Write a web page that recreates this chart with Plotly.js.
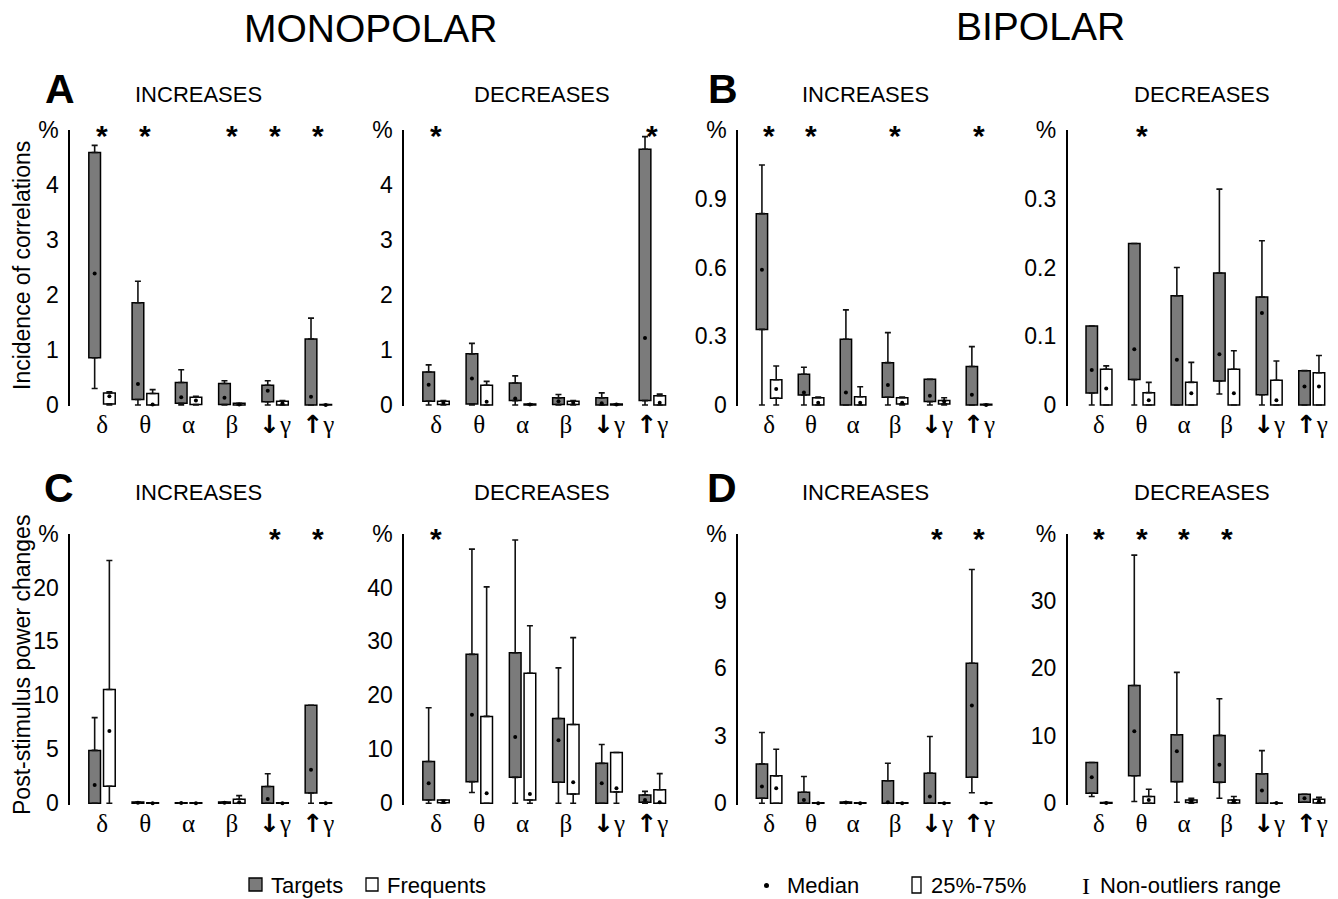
<!DOCTYPE html>
<html><head><meta charset="utf-8">
<script src="https://cdn.plot.ly/plotly-3.0.1.min.js"></script>
<style>html,body{margin:0;padding:0;background:#fff}#chart{width:1338px;height:899px}</style>
</head><body><div id="chart"></div>
<script>
// ---------- categories / tick labels ----------
const bands = ['δ', 'θ', 'α', 'β',
  '<span style="font-family:DejaVu Sans;font-weight:bold">↓</span>γ',
  '<span style="font-family:DejaVu Sans;font-weight:bold">↑</span>γ'];

// ---------- A: Monopolar, incidence of correlations, INCREASES ----------
const AI_T_lo  = [0.30, 0, 0, 0, 0, 0];
const AI_T_q1  = [0.86, 0.10, 0.03, 0.01, 0.06, 0];
const AI_T_med = [2.39, 0.38, 0.14, 0.13, 0.26, 0.15];
const AI_T_q3  = [4.59, 1.86, 0.41, 0.39, 0.36, 1.20];
const AI_T_hi  = [4.72, 2.25, 0.64, 0.44, 0.44, 1.58];
const AI_F_lo  = [0, 0, 0, 0, 0, 0];
const AI_F_q1  = [0.02, 0, 0.01, 0, 0, 0];
const AI_F_med = [0.16, 0.01, 0.08, 0.01, 0.03, 0];
const AI_F_q3  = [0.22, 0.21, 0.14, 0.03, 0.07, 0.01];
const AI_F_hi  = [0.24, 0.28, 0.16, 0.03, 0.08, 0.01];
const AI_stars = [1, 1, 0, 1, 1, 1];

// ---------- A: DECREASES ----------
const AD_T_lo  = [0, 0, 0, 0, 0, 0];
const AD_T_q1  = [0.07, 0.02, 0.08, 0.01, 0, 0.08];
const AD_T_med = [0.37, 0.48, 0.12, 0.07, 0.03, 1.22];
const AD_T_q3  = [0.60, 0.93, 0.40, 0.13, 0.13, 4.65];
const AD_T_hi  = [0.73, 1.12, 0.53, 0.19, 0.22, 4.88];
const AD_F_lo  = [0, 0, 0, 0, 0, 0];
const AD_F_q1  = [0.01, 0, 0, 0.01, 0, 0];
const AD_F_med = [0.04, 0.06, 0.01, 0.04, 0.01, 0.04];
const AD_F_q3  = [0.07, 0.36, 0.02, 0.07, 0.02, 0.17];
const AD_F_hi  = [0.08, 0.43, 0.02, 0.08, 0.02, 0.20];
const AD_stars = [1, 0, 0, 0, 0, 1];

// ---------- B: Bipolar, incidence of correlations, INCREASES ----------
const BI_T_lo  = [0, 0, 0, 0, 0, 0];
const BI_T_q1  = [0.33, 0.044, 0, 0.034, 0.015, 0];
const BI_T_med = [0.59, 0.055, 0.055, 0.087, 0.04, 0.045];
const BI_T_q3  = [0.835, 0.134, 0.287, 0.185, 0.112, 0.168];
const BI_T_hi  = [1.047, 0.165, 0.415, 0.316, 0.112, 0.255];
const BI_F_lo  = [0, 0, 0, 0, 0, 0];
const BI_F_q1  = [0.03, 0, 0, 0.005, 0.005, 0];
const BI_F_med = [0.07, 0.01, 0.01, 0.01, 0.015, 0];
const BI_F_q3  = [0.11, 0.032, 0.036, 0.032, 0.02, 0.003];
const BI_F_hi  = [0.17, 0.035, 0.08, 0.035, 0.032, 0.003];
const BI_stars = [1, 1, 0, 1, 0, 1];

// ---------- B: DECREASES ----------
const BD_T_lo  = [0, 0, 0, 0.016, 0, 0];
const BD_T_q1  = [0.0175, 0.037, 0, 0.035, 0.015, 0];
const BD_T_med = [0.051, 0.081, 0.066, 0.074, 0.134, 0.027];
const BD_T_q3  = [0.115, 0.235, 0.159, 0.192, 0.157, 0.05];
const BD_T_hi  = [0.115, 0.235, 0.20, 0.314, 0.239, 0.05];
const BD_F_lo  = [0, 0, 0, 0, 0, 0];
const BD_F_q1  = [0, 0, 0, 0, 0, 0];
const BD_F_med = [0.024, 0.007, 0.017, 0.017, 0.007, 0.027];
const BD_F_q3  = [0.052, 0.018, 0.033, 0.052, 0.036, 0.047];
const BD_F_hi  = [0.057, 0.033, 0.062, 0.079, 0.064, 0.072];
const BD_stars = [0, 1, 0, 0, 0, 0];

// ---------- C: Monopolar, post-stimulus power changes, INCREASES ----------
const CI_T_lo  = [0, 0, 0, 0, 0, 0];
const CI_T_q1  = [0, 0, 0, 0, 0, 0.96];
const CI_T_med = [1.7, 0.05, 0.02, 0.05, 0.4, 3.1];
const CI_T_q3  = [4.9, 0.12, 0.05, 0.12, 1.55, 9.08];
const CI_T_hi  = [7.94, 0.12, 0.05, 0.12, 2.73, 9.08];
const CI_F_lo  = [0, 0, 0, 0, 0, 0];
const CI_F_q1  = [1.58, 0, 0, 0, 0, 0];
const CI_F_med = [6.7, 0, 0, 0.1, 0, 0];
const CI_F_q3  = [10.54, 0.05, 0.05, 0.37, 0.05, 0.05];
const CI_F_hi  = [22.5, 0.05, 0.05, 0.71, 0.05, 0.05];
const CI_stars = [0, 0, 0, 0, 1, 1];

// ---------- C: DECREASES ----------
const CD_T_lo  = [0, 2.0, 0, 0, 0, 0];
const CD_T_q1  = [0.6, 4.0, 4.8, 3.9, 0, 0.2];
const CD_T_med = [3.7, 16.4, 12.3, 11.7, 3.7, 0.6];
const CD_T_q3  = [7.75, 27.6, 27.9, 15.7, 7.4, 1.55];
const CD_T_hi  = [17.7, 47.1, 48.8, 25.1, 10.9, 2.2];
const CD_F_lo  = [0, 0, 0, 0, 0, 0];
const CD_F_q1  = [0.1, 0, 0.6, 1.7, 2.1, 0];
const CD_F_med = [0.3, 1.86, 1.7, 3.9, 2.8, 0.2];
const CD_F_q3  = [0.6, 16.1, 24.1, 14.6, 9.4, 2.5];
const CD_F_hi  = [0.6, 40.1, 32.9, 30.7, 9.4, 5.5];
const CD_stars = [1, 0, 0, 0, 0, 0];

// ---------- D: Bipolar, post-stimulus power changes, INCREASES ----------
const DI_T_lo  = [0, 0, 0, 0, 0, 0.47];
const DI_T_q1  = [0.22, 0, 0, 0, 0, 1.16];
const DI_T_med = [0.74, 0.15, 0.03, 0.05, 0.3, 4.35];
const DI_T_q3  = [1.75, 0.49, 0.06, 1.0, 1.34, 6.23];
const DI_T_hi  = [3.15, 1.19, 0.06, 1.78, 2.97, 10.4];
const DI_F_lo  = [0, 0, 0, 0, 0, 0];
const DI_F_q1  = [0, 0, 0, 0, 0, 0];
const DI_F_med = [0.67, 0, 0, 0, 0, 0];
const DI_F_q3  = [1.22, 0.02, 0.02, 0.02, 0.02, 0.02];
const DI_F_hi  = [2.4, 0.02, 0.02, 0.02, 0.02, 0.02];
const DI_stars = [0, 0, 0, 0, 1, 1];

// ---------- D: DECREASES ----------
const DD_T_lo  = [1.0, 0.25, 0.15, 0.75, 0, 0.15];
const DD_T_q1  = [1.5, 4.07, 3.2, 3.1, 0, 0.15];
const DD_T_med = [3.87, 10.66, 7.7, 5.7, 1.9, 0.75];
const DD_T_q3  = [6.05, 17.45, 10.16, 10.06, 4.36, 1.34];
const DD_T_hi  = [6.05, 36.8, 19.4, 15.5, 7.8, 1.34];
const DD_F_lo  = [0, 0, 0, 0, 0, 0];
const DD_F_q1  = [0, 0, 0.1, 0.05, 0, 0.05];
const DD_F_med = [0.05, 0.5, 0.3, 0.3, 0.02, 0.3];
const DD_F_q3  = [0.1, 1.0, 0.5, 0.5, 0.05, 0.6];
const DD_F_hi  = [0.1, 2.08, 0.75, 1.0, 0.05, 0.9];
const DD_stars = [1, 1, 1, 1, 0, 0];

// ---------- axis tops (the "%" level) and tick values ----------
const AI_ticks = [0, 1, 2, 3, 4],       AI_top = 5;
const AD_ticks = [0, 1, 2, 3, 4],       AD_top = 5;
const BI_ticks = [0, 0.3, 0.6, 0.9],    BI_top = 1.2;
const BD_ticks = [0, 0.1, 0.2, 0.3],    BD_top = 0.4;
const CI_ticks = [0, 5, 10, 15, 20],    CI_top = 25;
const CD_ticks = [0, 10, 20, 30, 40],   CD_top = 50;
const DI_ticks = [0, 3, 6, 9],          DI_top = 12;
const DD_ticks = [0, 10, 20, 30],       DD_top = 40;

const subTitles = ['INCREASES', 'DECREASES', 'INCREASES', 'DECREASES',
                   'INCREASES', 'DECREASES', 'INCREASES', 'DECREASES'];

// ---------- build panels from the arrays ----------
function S(lo, q1, med, q3, hi) { return {lo, q1, med, q3, hi}; }
const panels = [
  {T: S(AI_T_lo, AI_T_q1, AI_T_med, AI_T_q3, AI_T_hi), F: S(AI_F_lo, AI_F_q1, AI_F_med, AI_F_q3, AI_F_hi), stars: AI_stars, ticks: AI_ticks, top: AI_top},
  {T: S(AD_T_lo, AD_T_q1, AD_T_med, AD_T_q3, AD_T_hi), F: S(AD_F_lo, AD_F_q1, AD_F_med, AD_F_q3, AD_F_hi), stars: AD_stars, ticks: AD_ticks, top: AD_top},
  {T: S(BI_T_lo, BI_T_q1, BI_T_med, BI_T_q3, BI_T_hi), F: S(BI_F_lo, BI_F_q1, BI_F_med, BI_F_q3, BI_F_hi), stars: BI_stars, ticks: BI_ticks, top: BI_top},
  {T: S(BD_T_lo, BD_T_q1, BD_T_med, BD_T_q3, BD_T_hi), F: S(BD_F_lo, BD_F_q1, BD_F_med, BD_F_q3, BD_F_hi), stars: BD_stars, ticks: BD_ticks, top: BD_top},
  {T: S(CI_T_lo, CI_T_q1, CI_T_med, CI_T_q3, CI_T_hi), F: S(CI_F_lo, CI_F_q1, CI_F_med, CI_F_q3, CI_F_hi), stars: CI_stars, ticks: CI_ticks, top: CI_top},
  {T: S(CD_T_lo, CD_T_q1, CD_T_med, CD_T_q3, CD_T_hi), F: S(CD_F_lo, CD_F_q1, CD_F_med, CD_F_q3, CD_F_hi), stars: CD_stars, ticks: CD_ticks, top: CD_top},
  {T: S(DI_T_lo, DI_T_q1, DI_T_med, DI_T_q3, DI_T_hi), F: S(DI_F_lo, DI_F_q1, DI_F_med, DI_F_q3, DI_F_hi), stars: DI_stars, ticks: DI_ticks, top: DI_top},
  {T: S(DD_T_lo, DD_T_q1, DD_T_med, DD_T_q3, DD_T_hi), F: S(DD_F_lo, DD_F_q1, DD_F_med, DD_F_q3, DD_F_hi), stars: DD_stars, ticks: DD_ticks, top: DD_top}
];

// ---------- geometry ----------
const W = 1338, H = 899;
const colPx = [[70, 340], [404, 674], [738, 1000], [1067.5, 1333]];
const rowPx = [[130, 406.4], [533.5, 804.6]];
const xRange = [0.26, 6.5];
const cats = bands.map((b, i) => i + 1);
const OFF = 0.17, BW = 0.27;
const GRAY = '#7b7b7b';
const SANS = 'Liberation Sans, Arial, Helvetica, sans-serif';
const SERIF = 'Liberation Serif, Times New Roman, serif';

const bars = [], overlay = [], annotations = [], shapes = [];
const layout = {
  width: W, height: H,
  margin: {l: 0, r: 0, t: 0, b: 0},
  paper_bgcolor: '#fff', plot_bgcolor: 'rgba(0,0,0,0)',
  barmode: 'overlay', showlegend: false,
  font: {family: SANS, color: '#000'},
  annotations, shapes
};

panels.forEach((p, i) => {
  const k = i + 1;
  const sfx = k === 1 ? '' : String(k);
  const xa = 'x' + sfx, ya = 'y' + sfx;
  const col = i % 4, row = Math.floor(i / 4);
  layout['xaxis' + sfx] = {
    domain: [colPx[col][0] / W, colPx[col][1] / W], range: xRange, anchor: ya,
    tickvals: cats, ticktext: bands, ticks: '', showline: false, showgrid: false, zeroline: false,
    tickfont: {family: SERIF, size: 25, color: '#000'}, ticklabelstandoff: 1, fixedrange: true
  };
  layout['yaxis' + sfx] = {
    domain: [1 - rowPx[row][1] / H, 1 - rowPx[row][0] / H], range: [-p.top * 0.005, p.top], anchor: xa,
    tickvals: p.ticks.concat([p.top]), ticktext: p.ticks.map(String).concat(['%']),
    ticks: '', showline: true, linecolor: '#000', linewidth: 1.6, showgrid: false, zeroline: false,
    tickfont: {family: SANS, size: 23, color: '#000'}, ticklabelstandoff: 5, fixedrange: true
  };
  [['T', -OFF, GRAY], ['F', OFF, '#ffffff']].forEach(([key, o, fill]) => {
    const d = p[key];
    const xs = cats.map(c => c + o);
    bars.push({
      type: 'bar', x: xs, base: d.q1, y: d.q3.map((v, j) => v - d.q1[j]), width: BW,
      marker: {color: fill, line: {color: '#000', width: 1.5}},
      xaxis: xa, yaxis: ya, hoverinfo: 'skip'
    });
    overlay.push({
      type: 'scatter', mode: 'markers', x: xs, y: d.q3, xaxis: xa, yaxis: ya, cliponaxis: false,
      marker: {size: 1, color: 'rgba(0,0,0,0)'}, hoverinfo: 'skip',
      error_y: {type: 'data', symmetric: false, array: d.hi.map((v, j) => v - d.q3[j]),
                arrayminus: d.q3.map(() => 0), width: 3, thickness: 1.6, color: '#111'}
    });
    overlay.push({
      type: 'scatter', mode: 'markers', x: xs, y: d.q1, xaxis: xa, yaxis: ya, cliponaxis: false,
      marker: {size: 1, color: 'rgba(0,0,0,0)'}, hoverinfo: 'skip',
      error_y: {type: 'data', symmetric: false, array: d.q1.map(() => 0),
                arrayminus: d.q1.map((v, j) => v - d.lo[j]), width: 3, thickness: 1.6, color: '#111'}
    });
    overlay.push({
      type: 'scatter', mode: 'markers', x: xs, y: d.med, xaxis: xa, yaxis: ya, cliponaxis: false,
      marker: {size: 4, color: '#000'}, hoverinfo: 'skip'
    });
  });
  p.stars.forEach((s, j) => {
    if (s) annotations.push({
      xref: xa, yref: ya, x: cats[j], y: p.top, text: '<b>*</b>', showarrow: false,
      font: {family: SANS, size: 30, color: '#000'}, xanchor: 'center', yanchor: 'middle', yshift: -5
    });
  });
  // sub-title
  annotations.push({
    xref: 'paper', yref: 'paper', x: [198, 542, 865, 1202][col] / W, y: 1 - [95, 493][row] / H,
    text: subTitles[i], showarrow: false, xanchor: 'center', yanchor: 'middle',
    font: {family: SANS, size: 22, color: '#000'}
  });
});

function paperText(text, px, py, size, opts) {
  annotations.push(Object.assign({
    xref: 'paper', yref: 'paper', x: px / W, y: 1 - py / H, text, showarrow: false,
    xanchor: 'center', yanchor: 'middle', font: {family: SANS, size, color: '#000'}
  }, opts || {}));
}
paperText('MONOPOLAR', 371, 28, 39);
paperText('BIPOLAR', 1040, 26, 39);
paperText('<b>A</b>', 60, 89, 41);
paperText('<b>B</b>', 723, 89, 41);
paperText('<b>C</b>', 59, 488, 41);
paperText('<b>D</b>', 722, 488, 41);
paperText('Incidence of correlations', 22, 266, 23, {textangle: -90});
paperText('Post-stimulus power changes', 22, 665, 23, {textangle: -90});

// legends
function pRect(x0, y0, x1, y1, fill) {
  shapes.push({type: 'rect', xref: 'paper', yref: 'paper', x0: x0 / W, x1: x1 / W,
    y0: 1 - y1 / H, y1: 1 - y0 / H, fillcolor: fill, line: {color: '#000', width: 1.3}});
}
pRect(249, 878, 262, 891, GRAY);
paperText('Targets', 269, 885, 22, {xanchor: 'left'});
pRect(366, 878, 378, 891, '#ffffff');
paperText('Frequents', 385, 885, 22, {xanchor: 'left'});

shapes.push({type: 'circle', xref: 'paper', yref: 'paper', x0: 764 / W, x1: 769 / W,
  y0: 1 - 888 / H, y1: 1 - 883 / H, fillcolor: '#000', line: {color: '#000', width: 0}});
paperText('Median', 785, 885, 22, {xanchor: 'left'});
pRect(912, 877, 921, 893, '#ffffff');
paperText('25%-75%', 929, 885, 22, {xanchor: 'left'});
paperText('I', 1086, 886, 24, {font: {family: SERIF, size: 24, color: '#000'}});
paperText('Non-outliers range', 1098, 885, 22, {xanchor: 'left'});

Plotly.newPlot('chart', bars.concat(overlay), layout, {staticPlot: true, displayModeBar: false});
</script>
</body></html>
